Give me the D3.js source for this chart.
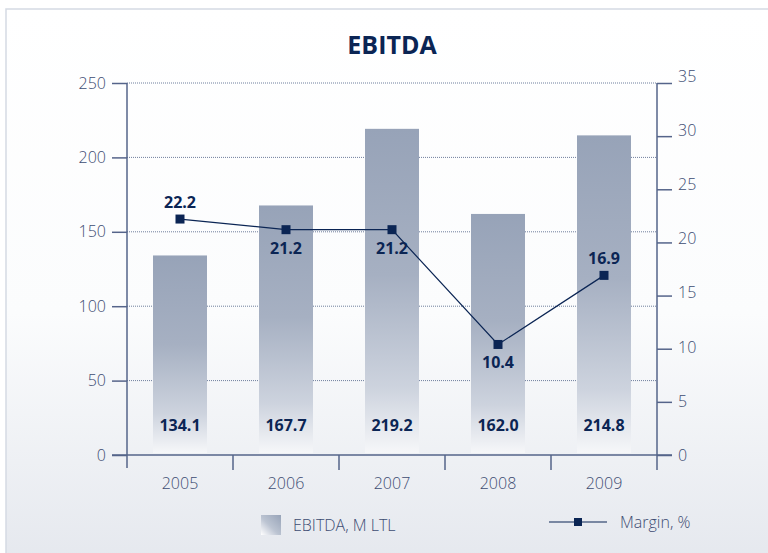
<!DOCTYPE html>
<html>
<head>
<meta charset="utf-8">
<script src="https://cdn.jsdelivr.net/npm/d3@7"></script>
<style>
  body { margin: 0; background: #fff; }
  text { font-family: "Open Sans", sans-serif; }
</style>
</head>
<body>
<div id="chart"></div>
<script>
// data
const years = ["2005", "2006", "2007", "2008", "2009"];
const ebitda = [134.1, 167.7, 219.2, 162.0, 214.8];   // M LTL
const margin = [22.2, 21.2, 21.2, 10.4, 16.9];        // %
const marginLabelPos = ["above", "below", "below", "below", "above"];
const leftTicks = [0, 50, 100, 150, 200, 250];
const rightTicks = [0, 5, 10, 15, 20, 25, 30, 35];

const width = 768, height = 553;
const plot = { left: 127, right: 657, top: 83, bottom: 455 };
const navy = "#0b2554", axisCol = "#55648a", textCol = "#3d4c72";

let svg = d3.select('#chart')
  .append('svg')
  .attr('width', width)
  .attr('height', height);

let defs = svg.append('defs');

// panel background gradient
let bg = defs.append('linearGradient').attr('id', 'bg')
  .attr('x1', 0).attr('y1', 0).attr('x2', 0).attr('y2', 1);
bg.append('stop').attr('offset', '0%').attr('stop-color', '#ffffff');
bg.append('stop').attr('offset', '55%').attr('stop-color', '#fbfcfd');
bg.append('stop').attr('offset', '100%').attr('stop-color', '#e5e8ee');

// bar gradient
let bar = defs.append('linearGradient').attr('id', 'barGrad')
  .attr('x1', 0).attr('y1', 0).attr('x2', 0).attr('y2', 1);
bar.append('stop').attr('offset', '0%').attr('stop-color', '#97a3b8');
bar.append('stop').attr('offset', '45%').attr('stop-color', '#a6b0c2');
bar.append('stop').attr('offset', '80%').attr('stop-color', '#cdd3de');
bar.append('stop').attr('offset', '100%').attr('stop-color', '#f6f7f9');

// legend swatch gradient
let sw = defs.append('linearGradient').attr('id', 'swGrad')
  .attr('x1', 1).attr('y1', 0).attr('x2', 0).attr('y2', 1);
sw.append('stop').attr('offset', '0%').attr('stop-color', '#97a3b8');
sw.append('stop').attr('offset', '55%').attr('stop-color', '#bcc4d2');
sw.append('stop').attr('offset', '100%').attr('stop-color', '#ffffff');

svg.append('rect')
  .attr('x', 6).attr('y', 9)
  .attr('width', width).attr('height', height)
  .attr('fill', 'url(#bg)')
  .attr('stroke', '#d5dae3').attr('stroke-width', 1.5);

// title
svg.append('text')
  .attr('x', 392).attr('y', 54)
  .attr('text-anchor', 'middle')
  .style('font-size', '25px').style('font-weight', 700)
  .attr('fill', navy)
  .text('EBITDA');

// scales
let xScale = d3.scaleBand()
  .domain(years)
  .range([plot.left, plot.right])
  .padding(0);
let yLeft = d3.scaleLinear().domain([0, 250]).range([plot.bottom, plot.top]);
let yRight = d3.scaleLinear().domain([0, 35]).range([plot.bottom, plot.top]);

// dotted gridlines
svg.append('g')
  .selectAll('line')
  .data(leftTicks.filter(d => d > 0))
  .enter()
  .append('line')
  .attr('x1', plot.left).attr('x2', plot.right)
  .attr('y1', d => yLeft(d)).attr('y2', d => yLeft(d))
  .attr('stroke', '#6f7e9c')
  .attr('stroke-width', 1)
  .attr('stroke-dasharray', '1,1');

// bars
const barW = 54;
svg.append('g')
  .selectAll('rect')
  .data(years)
  .enter()
  .append('rect')
  .attr('x', d => xScale(d) + (xScale.bandwidth() - barW) / 2)
  .attr('y', (d, i) => yLeft(ebitda[i]))
  .attr('width', barW)
  .attr('height', (d, i) => yLeft(0) - yLeft(ebitda[i]) - 2)
  .attr('fill', 'url(#barGrad)');

// bar value labels
svg.append('g')
  .selectAll('text')
  .data(years)
  .enter()
  .append('text')
  .attr('x', d => xScale(d) + xScale.bandwidth() / 2)
  .attr('y', 431)
  .attr('text-anchor', 'middle')
  .style('font-size', '16px').style('font-weight', 700)
  .attr('fill', navy)
  .text((d, i) => ebitda[i].toFixed(1));

// left axis
let leftAxis = svg.append('g')
  .attr('transform', `translate(${plot.left}, 0)`)
  .call(d3.axisLeft(yLeft).tickValues(leftTicks).tickSize(15).tickPadding(6).tickSizeOuter(0));
leftAxis.select('.domain').remove();
leftAxis.selectAll('line').attr('stroke', axisCol).attr('stroke-width', 1.5);
leftAxis.selectAll('text')
  .style('font-size', '16px').style('font-weight', 300)
  .style('font-family', '"Open Sans", sans-serif')
  .attr('fill', textCol);
svg.append('line')
  .attr('x1', plot.left).attr('x2', plot.left)
  .attr('y1', plot.top).attr('y2', 468)
  .attr('stroke', axisCol).attr('stroke-width', 1.5);

// right axis
let rightAxis = svg.append('g')
  .attr('transform', `translate(${plot.right}, 0)`)
  .call(d3.axisRight(yRight).tickValues(rightTicks).tickSize(15).tickPadding(6).tickSizeOuter(0));
rightAxis.select('.domain').remove();
rightAxis.selectAll('line').attr('stroke', axisCol).attr('stroke-width', 1.5);
rightAxis.selectAll('text')
  .attr('dy', (d) => (0.32 - 0.4 * d / 35) + 'em')
  .style('font-size', '16px').style('font-weight', 300)
  .style('font-family', '"Open Sans", sans-serif')
  .attr('fill', textCol);
svg.append('line')
  .attr('x1', plot.right).attr('x2', plot.right)
  .attr('y1', plot.top).attr('y2', 470)
  .attr('stroke', axisCol).attr('stroke-width', 1.5);

// baseline
svg.append('line')
  .attr('x1', plot.left - 15).attr('x2', plot.right + 15)
  .attr('y1', plot.bottom).attr('y2', plot.bottom)
  .attr('stroke', axisCol).attr('stroke-width', 1.5);

// x ticks at category boundaries
const bounds = years.map(d => xScale(d)).concat([plot.right]);
svg.append('g')
  .selectAll('line')
  .data(bounds.slice(1, -1))
  .enter()
  .append('line')
  .attr('x1', d => d).attr('x2', d => d)
  .attr('y1', plot.bottom).attr('y2', plot.bottom + 15)
  .attr('stroke', axisCol).attr('stroke-width', 1.5);

// x labels
svg.append('g')
  .selectAll('text')
  .data(years)
  .enter()
  .append('text')
  .attr('x', d => xScale(d) + xScale.bandwidth() / 2)
  .attr('y', 489)
  .attr('text-anchor', 'middle')
  .style('font-size', '16px').style('font-weight', 300)
  .attr('fill', textCol)
  .text(d => d);

// margin line
let line = d3.line()
  .x((d, i) => xScale(years[i]) + xScale.bandwidth() / 2)
  .y(d => yRight(d));

svg.append('path')
  .datum(margin)
  .attr('d', line)
  .attr('fill', 'none')
  .attr('stroke', navy)
  .attr('stroke-width', 1.2);

svg.append('g')
  .selectAll('rect')
  .data(margin)
  .enter()
  .append('rect')
  .attr('x', (d, i) => xScale(years[i]) + xScale.bandwidth() / 2 - 4.5)
  .attr('y', d => yRight(d) - 4.5)
  .attr('width', 9).attr('height', 9)
  .attr('fill', navy);

svg.append('g')
  .selectAll('text')
  .data(margin)
  .enter()
  .append('text')
  .attr('x', (d, i) => xScale(years[i]) + xScale.bandwidth() / 2)
  .attr('y', (d, i) => marginLabelPos[i] === 'above' ? yRight(d) - 11 : yRight(d) + 24)
  .attr('text-anchor', 'middle')
  .style('font-size', '16px').style('font-weight', 700)
  .attr('fill', navy)
  .text(d => d.toFixed(1));

// legend
svg.append('rect')
  .attr('x', 261).attr('y', 515)
  .attr('width', 20).attr('height', 20)
  .attr('fill', 'url(#swGrad)');
svg.append('text')
  .attr('x', 293).attr('y', 531)
  .style('font-size', '16px').style('font-weight', 300)
  .attr('fill', textCol)
  .text('EBITDA, M LTL');

svg.append('line')
  .attr('x1', 549).attr('x2', 607)
  .attr('y1', 522).attr('y2', 522)
  .attr('stroke', navy).attr('stroke-width', 1.2);
svg.append('rect')
  .attr('x', 574).attr('y', 518)
  .attr('width', 8).attr('height', 8)
  .attr('fill', navy);
svg.append('text')
  .attr('x', 620).attr('y', 528)
  .style('font-size', '16px').style('font-weight', 300)
  .attr('fill', textCol)
  .text('Margin, %');
</script>
</body>
</html>
